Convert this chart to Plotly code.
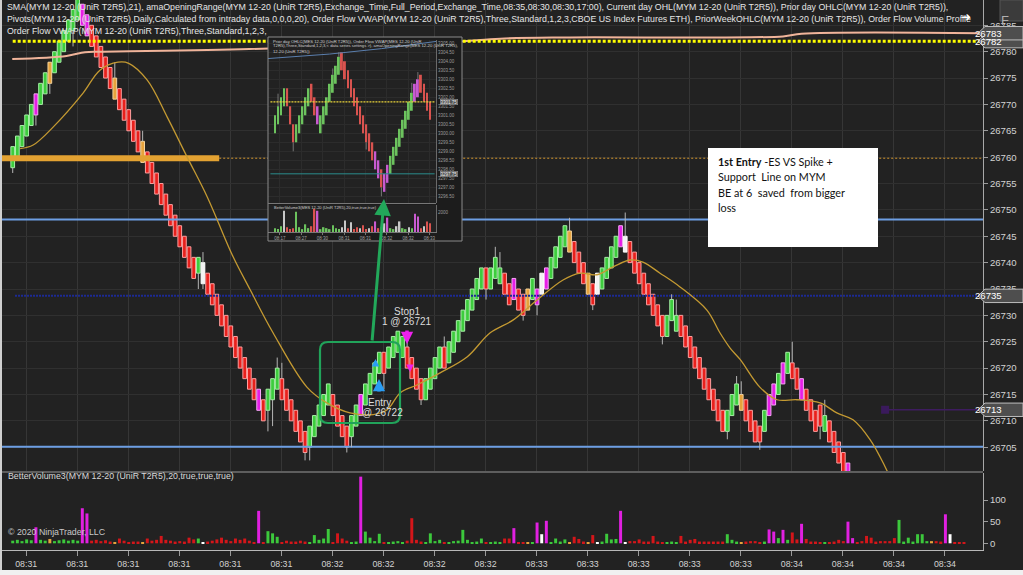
import plotly.graph_objects as go

W, H = 1023, 575

# ======================= DATA =======================
time_tick_bars = [2.9, 13.9, 24.9, 35.9, 46.9, 57.9, 68.9, 79.9, 90.9, 101.9,
                  112.9, 123.9, 134.9, 145.9, 156.9, 167.9, 178.9, 189.9, 200.9]
time_tick_labels = ["08:31"] * 6 + ["08:32"] * 4 + ["08:33"] * 5 + ["08:34"] * 4

price_ticks = [26705, 26710, 26715, 26720, 26725, 26730, 26735, 26740, 26745,
               26750, 26755, 26760, 26765, 26770, 26775, 26780, 26785]
volume_ticks = [0, 50, 100]

opens = [
    26758, 26760, 26762, 26764, 26766, 26768, 26770, 26772, 26774, 26776,
    26778, 26780, 26782, 26784, 26786, 26789, 26787, 26785, 26783, 26781,
    26779, 26777, 26775, 26773, 26771, 26769, 26767, 26765, 26763, 26761,
    26759, 26757, 26755, 26753, 26751, 26749, 26747, 26745, 26743, 26741,
    26738, 26740, 26738, 26736, 26734, 26732, 26730, 26728, 26726, 26724,
    26722, 26720, 26718, 26716, 26714, 26712, 26714, 26716, 26718, 26716,
    26714, 26712, 26710, 26708, 26705, 26707, 26709, 26711, 26713, 26715,
    26713, 26711, 26709, 26707, 26709, 26711, 26713, 26715, 26717, 26719,
    26723, 26720, 26722, 26723, 26722, 26724, 26722, 26720, 26718, 26714,
    26716, 26718, 26720, 26724, 26721, 26723, 26725, 26727, 26729, 26731,
    26733, 26735, 26739, 26735, 26737, 26736, 26738, 26736, 26733, 26735,
    26734, 26731, 26733, 26732, 26734, 26735, 26737, 26739, 26741, 26743,
    26746, 26744, 26742, 26740, 26738, 26736, 26734, 26735, 26737, 26739,
    26741, 26743, 26745, 26744, 26742, 26740, 26738, 26736, 26734, 26732,
    26730, 26726, 26729, 26727, 26730, 26728, 26726, 26724, 26722, 26720,
    26718, 26716, 26714, 26712, 26708, 26711, 26713, 26715, 26714, 26712,
    26710, 26709, 26708, 26711, 26713, 26715, 26717, 26719, 26721, 26720,
    26718, 26716, 26714, 26712, 26713, 26708, 26710, 26708, 26706, 26704,
    26702]
closes = [
    26762, 26764, 26766, 26768, 26770, 26772, 26774, 26776, 26778, 26780,
    26782, 26784, 26786, 26788, 26790, 26785, 26783, 26781, 26779, 26777,
    26775, 26773, 26771, 26769, 26767, 26765, 26763, 26761, 26759, 26757,
    26755, 26753, 26751, 26749, 26747, 26745, 26743, 26741, 26739, 26737,
    26741, 26736, 26734, 26732, 26730, 26728, 26726, 26724, 26722, 26720,
    26718, 26716, 26714, 26712, 26710, 26716, 26718, 26720, 26714, 26712,
    26710, 26708, 26706, 26704, 26709, 26711, 26713, 26715, 26717, 26711,
    26709, 26707, 26705, 26711, 26713, 26715, 26717, 26719, 26721, 26723,
    26719, 26724, 26726, 26727, 26726, 26720, 26718, 26716, 26714, 26718,
    26720, 26722, 26724, 26720, 26725, 26727, 26729, 26731, 26733, 26735,
    26737, 26739, 26735, 26739, 26741, 26739, 26734, 26732, 26737, 26731,
    26730, 26735, 26737, 26735, 26738, 26739, 26741, 26743, 26745, 26747,
    26742, 26740, 26738, 26736, 26734, 26732, 26738, 26739, 26741, 26743,
    26745, 26747, 26742, 26740, 26738, 26736, 26734, 26732, 26730, 26728,
    26726, 26730, 26733, 26730, 26726, 26724, 26722, 26720, 26718, 26716,
    26714, 26712, 26710, 26708, 26712, 26715, 26717, 26712, 26710, 26708,
    26706, 26706, 26712, 26715, 26717, 26719, 26721, 26723, 26718, 26716,
    26714, 26712, 26710, 26708, 26709, 26711, 26706, 26704, 26702, 26700,
    26698]
wick_lows = {0: 26757, 5: 26766, 8: 26772, 13: 26781, 40: 26735, 41: 26735,
             55: 26708, 56: 26709, 63: 26702.5, 64: 26702.5, 72: 26704, 73: 26705,
             80: 26716, 88: 26713, 102: 26733, 110: 26729, 113: 26730, 125: 26731,
             140: 26724.5, 154: 26706.5, 161: 26704.5, 174: 26706.5}
wick_highs = {22: 26778, 28: 26765, 41: 26742, 57: 26722, 58: 26721, 85: 26726,
              93: 26726, 104: 26743, 105: 26742, 120: 26748.5, 132: 26749.5,
              142: 26734, 143: 26733, 156: 26718.5, 157: 26717.5, 168: 26725, 175: 26714}

bar_codes = ("ggggg" "m" "gg" "o" "gggggg" "mm" "rrrrr" "o" "rrrrr" "o" "rrrrrrrrrrr"
             "g" "w" "rrrrrrrrrrr" "m" "r" "ggg" "rrrrrr" "ggggg" "rrrr" "gg" "m"
             "gggg" "r" "gggg" "rrrr" "gggg" "r" "gggggggg" "r" "ggg" "rr" "m" "rr"
             "o" "g" "m" "w" "m" "gggg" "o" "rrr" "o" "r" "w" "gggg" "m" "w"
             "rrrrrrrr" "ggg" "rrrrrrrrrr" "ggg" "o" "rrrr" "g" "mm" "g" "m" "g"
             "rr" "m" "rrrr" "g" "rrrr" "m" "m" "rrrrrrrrr" "ggggggg" "o" "rr" "m"
             "w" "rrr")

volumes = [6, 8, 5, 9, 7, 37, 8, 6, 10, 5, 7, 9, 6, 8, 6, 81, 69, 6, 8, 5,
           7, 4, 3, 11, 6, 3, 4, 4, 3, 11, 6, 8, 17, 8, 6, 4, 5, 4, 13, 9,
           11, 3, 4, 6, 9, 13, 8, 5, 11, 8, 11, 6, 3, 75, 3, 28, 23, 15, 3, 6,
           4, 4, 6, 4, 3, 19, 8, 11, 33, 3, 23, 11, 6, 3, 4, 154, 27, 13, 5, 22,
           3, 3, 4, 5, 3, 6, 58, 8, 4, 3, 23, 5, 8, 3, 3, 5, 6, 31, 8, 3,
           4, 11, 3, 3, 4, 3, 11, 11, 35, 3, 2, 3, 2, 48, 21, 52, 2, 11, 4, 9,
           3, 15, 10, 4, 3, 19, 3, 4, 22, 9, 10, 75, 3, 5, 5, 9, 4, 4, 17, 4,
           3, 3, 4, 3, 17, 4, 8, 10, 4, 4, 4, 4, 4, 4, 21, 8, 4, 3, 4, 5,
           5, 3, 4, 32, 27, 12, 31, 8, 25, 9, 45, 10, 4, 4, 3, 3, 2, 4, 8, 5,
           50, 12, 3, 5, 17, 13, 4, 5, 5, 5, 12, 54, 4, 13, 4, 21, 21, 5, 5, 5,
           4, 67, 21, 2, 2, 2]

sma_x = [1.6, 4.4, 8.7, 15.2, 18.8, 22.7, 25.0, 29.0, 33.3, 37.6, 41.9, 47.5, 51.2,
         56.1, 63.4, 67.7, 72.7, 77.7, 80.7, 83.5, 87.1, 92.1, 97.9, 102.9, 107.8,
         113.0, 118.6, 122.3, 125.9, 129.4, 133.0, 135.8, 139.5, 143.8, 149.6, 152.4,
         154.6, 156.8, 161.0, 164.7, 169.0, 174.0, 177.6, 181.1, 184.8, 188.0, 190.2]
sma_y = [26761.6, 26762.3, 26765.7, 26772.2, 26776.5, 26778.0, 26777.8, 26774.6,
         26767.6, 26760.0, 26752.5, 26741.1, 26734.8, 26726.7, 26716.4, 26713.4,
         26711.5, 26711.2, 26712.1, 26715.3, 26716.8, 26719.1, 26722.1, 26726.7,
         26729.1, 26732.9, 26736.7, 26738.0, 26737.7, 26739.2, 26740.5, 26740.1,
         26738.0, 26735.4, 26731.0, 26726.7, 26723.8, 26721.6, 26716.4, 26714.0,
         26714.0, 26713.4, 26711.5, 26710.2, 26706.4, 26701.3, 26697.0]
vwap_x = [-0.1, 11.6, 15.6, 18.8, 51.0, 97.0, 106.0, 120.0, 166.0, 170.0, 209.0]
vwap_y = [26778.6, 26779.2, 26779.9, 26780.0, 26780.5, 26782.0, 26782.5, 26782.7,
          26782.9, 26783.4, 26783.5]

yellow_level = 26782.0
orange_level = 26759.8
opening_range_bars = [-2.7, 44.5]
pivot_levels = [26748.2, 26705.1]
navy_level = 26733.7
navy_start_bar = 0.5
purple_level = 26712.1
purple_start_bar = 188.0
axis_tags = [(26782.0, "26782"), (26783.5, "26783"), (26733.7, "26735"), (26712.1, "26713")]

inset_opens = [3300.0, 3300.5, 3301.0, 3301.5, 3302.5, 3301.5, 3300.5, 3299.5, 3300.0, 3300.5,
               3301.0, 3301.5, 3302.75, 3302.0, 3301.5, 3300.0, 3300.5, 3301.0, 3301.75, 3302.25,
               3302.75, 3303.25, 3304.5, 3304.0, 3303.5, 3303.0, 3302.5, 3302.0, 3301.5, 3301.0,
               3300.5, 3300.0, 3299.5, 3299.0, 3298.5, 3298.0, 3296.75, 3297.25, 3297.75, 3298.25,
               3298.75, 3299.25, 3299.75, 3300.25, 3300.75, 3301.25, 3301.75, 3302.0, 3303.25, 3302.75,
               3302.25, 3301.75]
inset_closes = [3301.0, 3301.5, 3302.0, 3302.5, 3301.5, 3300.5, 3299.5, 3300.5, 3301.0, 3301.5,
                3302.0, 3302.5, 3301.75, 3301.0, 3300.5, 3301.0, 3301.5, 3302.0, 3302.75, 3303.25,
                3303.75, 3304.25, 3303.5, 3303.0, 3302.5, 3302.0, 3301.5, 3301.0, 3300.5, 3300.0,
                3299.5, 3299.0, 3298.5, 3298.0, 3297.5, 3297.0, 3297.75, 3298.25, 3298.75, 3299.25,
                3299.75, 3300.25, 3300.75, 3301.25, 3301.75, 3302.25, 3302.75, 3303.0, 3302.25, 3301.75,
                3301.25, 3300.75]
inset_wick_lows = {6: 3299.0, 30: 3299.1, 35: 3296.5}
inset_wick_highs = {1: 3302.2, 19: 3303.6, 21: 3304.5, 45: 3302.8, 47: 3303.4}
inset_codes = "gggg" "rrr" "ggggg" "rrm" "ggggggg" "rrrrrrrrrrrmmr" "mmggggggggmm" "rrrr"
inset_volumes = [400, 300, 600, 2200, 500, 300, 400, 2100, 500, 300, 800, 400, 600, 2400, 2200,
                 300, 500, 400, 300, 700, 400, 300, 500, 1200, 400, 1000, 300, 500, 400, 700,
                 300, 400, 600, 1100, 400, 500, 900, 1500, 400, 300, 600, 1100, 400, 300, 500,
                 400, 1900, 1600, 400, 600, 1100, 900]
inset_vol_codes = "ggg" "w" "rrr" "ggggg" "rr" "m" "ggggggg" "wwrwrrwrrwrmrrwmggwwggwgmmrwrr"
inset_vwap_x = [-2.3, 18, 35, 48, 53]
inset_vwap_y = [3304.15, 3304.4, 3304.7, 3305.0, 3305.1]
inset_yellow_level = 3301.75
inset_teal_level = 3297.75
inset_tick_bars = [1.6, 8.6, 15.6, 22.7, 29.7, 36.7, 43.8, 50.8]
inset_tick_labels = ["08:17", "08:27", "08:30", "08:31", "08:31", "08:32", "08:32", "08:33"]

# ======================= LAYOUT CONSTANTS =======================
BG = "#222222"
PLOT_RIGHT = 983
MAIN_BOT = 471
VOL_TOP, VOL_BOT = 473, 550
X_RANGE = [-2.74, 209.1]
Y_RANGE = [26700.49, 26789.80]
VOL_RANGE = [-15.5, 162.4]
FONT = "Liberation Sans, Arial, sans-serif"

fill_cols = {"g": "#3dcc3d", "r": "#e8201c", "m": "#e61ee6", "o": "#e6a23c", "w": "#f2f2f2"}
edge_cols = {"g": "#a6f0a6", "r": "#ff9f9f", "m": "#f6a6f6", "o": "#f7d49a", "w": "#ffffff"}
vol_cols = {"g": "#3cc83c", "r": "#d4161a", "m": "#e020e0", "o": "#e6a23c", "w": "#ffffff"}
in_cols = {"g": "#6cc35e", "r": "#d9534f", "m": "#c85ad0", "w": "#c8c8c8"}


def px_x(px):
    return X_RANGE[0] + px / PLOT_RIGHT * (X_RANGE[1] - X_RANGE[0])


def px_y(py):
    return Y_RANGE[1] - py / MAIN_BOT * (Y_RANGE[1] - Y_RANGE[0])


def pxs(py_len):
    return py_len / MAIN_BOT * (Y_RANGE[1] - Y_RANGE[0])


def PX(px):
    return px / W


def PY(py):
    return 1 - py / H


fig = go.Figure()

n = len(closes)
idx = list(range(n))
fig.add_trace(go.Scatter(x=opening_range_bars, y=[orange_level] * 2, mode="lines",
                         line=dict(color="#e3a232", width=6), hoverinfo="skip"))
fig.add_trace(go.Scatter(x=[opening_range_bars[1], X_RANGE[1]], y=[orange_level] * 2, mode="lines",
                         line=dict(color="#d4962e", width=1, dash="2px,2px"), hoverinfo="skip"))
for lv in pivot_levels:
    fig.add_trace(go.Scatter(x=X_RANGE, y=[lv, lv], mode="lines",
                             line=dict(color="#6d9ee3", width=2), hoverinfo="skip"))
fig.add_trace(go.Scatter(x=[navy_start_bar, X_RANGE[1]], y=[navy_level] * 2, mode="lines",
                         line=dict(color="#1c2a94", width=2, dash="2px,1px"), hoverinfo="skip"))
fig.add_trace(go.Scatter(x=[purple_start_bar, X_RANGE[1]], y=[purple_level] * 2, mode="lines",
                         line=dict(color="#3e1c60", width=1.5), hoverinfo="skip"))
fig.add_trace(go.Scatter(x=[purple_start_bar], y=[purple_level], mode="markers",
                         marker=dict(symbol="square", size=8, color="#3a1a5c"), hoverinfo="skip"))
fig.add_trace(go.Scatter(x=vwap_x, y=vwap_y, mode="lines", line=dict(color="#f0b49a", width=2),
                         line_shape="spline", hoverinfo="skip"))

wx, wy = [], []
for i in idx:
    lo_b, hi_b = min(opens[i], closes[i]), max(opens[i], closes[i])
    if i in wick_lows:
        wx += [i, i, None]
        wy += [wick_lows[i], lo_b, None]
    if i in wick_highs:
        wx += [i, i, None]
        wy += [hi_b, wick_highs[i], None]
fig.add_trace(go.Scatter(x=wx, y=wy, mode="lines", line=dict(color="#b5b5b5", width=1),
                         hoverinfo="skip"))
fig.add_trace(go.Bar(x=idx, y=[abs(c - o) for o, c in zip(opens, closes)],
                     base=[min(o, c) for o, c in zip(opens, closes)], width=0.8,
                     marker=dict(color=[fill_cols[bar_codes[i]] for i in idx],
                                 line=dict(color=[edge_cols[bar_codes[i]] for i in idx], width=1)),
                     hoverinfo="skip"))
fig.add_trace(go.Scatter(x=[0, X_RANGE[1]], y=[yellow_level] * 2, mode="lines",
                         line=dict(color="#ffff00", width=3, dash="3px,2px"), hoverinfo="skip"))
fig.add_trace(go.Scatter(x=sma_x, y=sma_y, mode="lines", line=dict(color="#c49a32", width=1.3),
                         line_shape="spline", hoverinfo="skip"))

vidx = list(range(len(volumes)))
fig.add_trace(go.Bar(x=vidx, y=volumes, width=0.64, xaxis="x2", yaxis="y2",
                     marker=dict(color=[vol_cols[bar_codes[i]] for i in vidx], line=dict(width=0)),
                     hoverinfo="skip"))

fig.add_trace(go.Scatter(x=[0, 1, 1, 0, 0], y=[0, 0, 1, 1, 0], fill="toself", fillcolor="#1c1c1c",
                         mode="lines", line=dict(width=0, color="#1c1c1c"), xaxis="x3", yaxis="y3",
                         hoverinfo="skip"))
k = list(range(len(inset_closes)))
fig.add_trace(go.Scatter(x=inset_vwap_x, y=inset_vwap_y, mode="lines", line=dict(color="#5b7fae", width=1),
                         xaxis="x4", yaxis="y4", hoverinfo="skip"))
fig.add_trace(go.Scatter(x=[-1.5, 52.5], y=[inset_teal_level] * 2, mode="lines",
                         line=dict(color="#2b8c8c", width=1), xaxis="x4", yaxis="y4", hoverinfo="skip"))
iwx, iwy = [], []
for i in k:
    lo_b, hi_b = min(inset_opens[i], inset_closes[i]), max(inset_opens[i], inset_closes[i])
    if i in inset_wick_lows:
        iwx += [i, i, None]
        iwy += [inset_wick_lows[i], lo_b, None]
    if i in inset_wick_highs:
        iwx += [i, i, None]
        iwy += [hi_b, inset_wick_highs[i], None]
fig.add_trace(go.Scatter(x=iwx, y=iwy, mode="lines", line=dict(color="#8a8a8a", width=0.8),
                         xaxis="x4", yaxis="y4", hoverinfo="skip"))
fig.add_trace(go.Bar(x=k, y=[abs(c - o) for o, c in zip(inset_opens, inset_closes)],
                     base=[min(o, c) for o, c in zip(inset_opens, inset_closes)], width=0.62,
                     marker=dict(color=[in_cols[inset_codes[i]] for i in k], line=dict(width=0)),
                     xaxis="x4", yaxis="y4", hoverinfo="skip"))
fig.add_trace(go.Scatter(x=[-1.5, 52.5], y=[inset_yellow_level] * 2, mode="lines",
                         line=dict(color="#e8d23a", width=1.2, dash="2px,1px"), xaxis="x4", yaxis="y4",
                         hoverinfo="skip"))
fig.add_trace(go.Bar(x=k, y=inset_volumes, width=0.5, xaxis="x5", yaxis="y5",
                     marker=dict(color=[in_cols[inset_vol_codes[i]] for i in k], line=dict(width=0)),
                     hoverinfo="skip"))

grid = "#363636"
ax_common = dict(zeroline=False, fixedrange=True)
fig.update_layout(
    width=W, height=H, margin=dict(l=0, r=0, t=0, b=0),
    paper_bgcolor=BG, plot_bgcolor=BG, showlegend=False, barmode="overlay",
    font=dict(family=FONT, color="#d0d0d0"),
    xaxis=dict(domain=[0, PLOT_RIGHT / W], range=X_RANGE, tickvals=time_tick_bars,
               showticklabels=False, showgrid=True, gridcolor=grid, gridwidth=1, ticks="", **ax_common),
    yaxis=dict(domain=[PY(MAIN_BOT), 1], range=Y_RANGE, side="right", tickvals=price_ticks,
               tickformat="d", ticks="outside", ticklen=4, tickcolor="#9a9a9a", showline=True,
               linecolor="#a8a8a8", gridcolor="#303030", tickfont=dict(size=9.6, color="#d2d2d2"),
               **ax_common),
    xaxis2=dict(domain=[0, PLOT_RIGHT / W], range=X_RANGE, anchor="y2", tickvals=time_tick_bars,
                ticktext=time_tick_labels, ticks="outside", ticklen=5, tickcolor="#9a9a9a",
                showline=True, linecolor="#b8b8b8", showgrid=False,
                tickfont=dict(size=8.8, color="#d2d2d2"), **ax_common),
    yaxis2=dict(domain=[PY(VOL_BOT), PY(VOL_TOP)], range=VOL_RANGE, anchor="x2", side="right",
                tickvals=volume_ticks, tickformat="d", ticks="outside", ticklen=4, tickcolor="#9a9a9a",
                showline=True, linecolor="#a8a8a8", showgrid=False,
                tickfont=dict(size=9.6, color="#d2d2d2"), **ax_common),
    xaxis3=dict(domain=[PX(268), PX(462)], range=[0, 1], anchor="y3", visible=False, **ax_common),
    yaxis3=dict(domain=[PY(241), PY(37)], range=[0, 1], anchor="x3", visible=False, **ax_common),
    xaxis4=dict(domain=[PX(268), PX(436)], range=[-2.3, 52.96], anchor="y4", tickvals=inset_tick_bars,
                showticklabels=False, showgrid=True, gridcolor="#2c2c2c", ticks="", **ax_common),
    yaxis4=dict(domain=[PY(203), PY(40)], range=[3296.13, 3305.18], anchor="x4", side="right",
                dtick=0.5, tickformat=".2f", showgrid=True, gridcolor="#2c2c2c", showline=True,
                linecolor="#6a6a6a", ticks="", tickfont=dict(size=4.5, color="#9a9a9a"), **ax_common),
    xaxis5=dict(domain=[PX(268), PX(436)], range=[-2.3, 52.96], anchor="y5", tickvals=inset_tick_bars,
                ticktext=inset_tick_labels, ticks="outside", ticklen=2, tickcolor="#777",
                showline=True, linecolor="#777", showgrid=False,
                tickfont=dict(size=4.5, color="#a0a0a0"), **ax_common),
    yaxis5=dict(domain=[PY(232), PY(205)], range=[0, 2800], anchor="x5", side="right",
                tickvals=[2000], tickformat="d", showline=True, linecolor="#6a6a6a", showgrid=False,
                ticks="", tickfont=dict(size=4.5, color="#9a9a9a"), **ax_common),
)

shapes = []
shapes.append(dict(type="line", xref="paper", yref="paper", x0=0, x1=PX(PLOT_RIGHT),
                   y0=PY(472), y1=PY(472), line=dict(color="#9a9a9a", width=1)))
shapes.append(dict(type="rect", xref="paper", yref="paper", x0=0, x1=1, y0=0, y1=PY(570),
                   fillcolor="#f0f0f0", line=dict(width=0), layer="above"))
shapes.append(dict(type="rect", xref="paper", yref="paper", x0=0, x1=PX(2), y0=PY(570), y1=1,
                   fillcolor="#cfcfcf", line=dict(width=0), layer="above"))
shapes.append(dict(type="rect", xref="paper", yref="paper", x0=PX(268), x1=PX(462), y0=PY(241),
                   y1=PY(37), line=dict(color="#8a8a8a", width=1), layer="above"))
shapes.append(dict(type="line", xref="paper", yref="paper", x0=PX(268), x1=PX(436), y0=PY(203.5),
                   y1=PY(203.5), line=dict(color="#777", width=1), layer="above"))

bx0, bx1 = px_x(320), px_x(400)
by1, by0 = px_y(342), px_y(423)
rx, ry = px_x(8) - px_x(0), pxs(8)
path = (f"M {bx0+rx},{by1} L {bx1-rx},{by1} Q {bx1},{by1} {bx1},{by1-ry} "
        f"L {bx1},{by0+ry} Q {bx1},{by0} {bx1-rx},{by0} L {bx0+rx},{by0} "
        f"Q {bx0},{by0} {bx0},{by0+ry} L {bx0},{by1-ry} Q {bx0},{by1} {bx0+rx},{by1} Z")
shapes.append(dict(type="path", xref="x", yref="y", path=path, line=dict(color="#21a35a", width=2.2),
                   layer="above"))

shapes.append(dict(type="rect", xref="paper", yref="paper", x0=PX(708), x1=PX(878), y0=PY(247),
                   y1=PY(148), fillcolor="#ffffff", line=dict(width=0), layer="above"))

dh = pxs(6.7)
for lv, txt in axis_tags:
    p = (f"M {PX(978)},{lv} L {PX(985)},{lv+dh} L 1,{lv+dh} L 1,{lv-dh} "
         f"L {PX(985)},{lv-dh} Z")
    shapes.append(dict(type="path", xref="paper", yref="y", path=p, fillcolor="#4e4e4e",
                       line=dict(color="#bdbdbd", width=1), layer="above"))
shapes.append(dict(type="rect", xref="paper", yref="paper", x0=PX(1000), x1=1, y0=PY(21), y1=1,
                   fillcolor="#3b3b3b", line=dict(color="#555", width=1), layer="above"))

ann = []
top_lines = [
    "SMA(MYM 12-20 (UniR T2R5),21), amaOpeningRange(MYM 12-20 (UniR T2R5),Exchange_Time,Full_Period,"
    "Exchange_Time,08:35,08:30,08:30,17:00), Current day OHL(MYM 12-20 (UniR T2R5)), Prior day OHLC(MYM 12-20 (UniR T2R5)),",
    "Pivots(MYM 12-20 (UniR T2R5),Daily,Calculated from intraday data,0,0,0,20), Order Flow VWAP(MYM 12-20 "
    "(UniR T2R5),Three,Standard,1,2,3,CBOE US Index Futures ETH), PriorWeekOHLC(MYM 12-20 (UniR T2R5)), Order Flow Volume Profile",
    "Order Flow VWAP(MYM 12-20 (UniR T2R5),Three,Standard,1,2,3,",
]
for j, t in enumerate(top_lines):
    ann.append(dict(xref="paper", yref="paper", x=PX(5), y=PY(7 + 12 * j), text=t, showarrow=False,
                    xanchor="left", yanchor="middle", font=dict(size=8.8, color="#e6e6e6")))
ann.append(dict(xref="paper", yref="paper", x=PX(966), y=PY(17), text="➜", showarrow=False,
                xanchor="center", yanchor="middle", font=dict(size=12, color="#ffffff")))
ann.append(dict(xref="paper", yref="paper", x=PX(1011), y=PY(11), text="F", showarrow=False,
                font=dict(size=13, color="#b0b0b0")))
ann.append(dict(xref="paper", yref="paper", x=PX(6), y=PY(483), text="BetterVolume3(MYM 12-20 (UniR T2R5),20,true,true,true)",
                showarrow=False, xanchor="left", font=dict(size=8.8, color="#d8d8d8")))
ann.append(dict(xref="paper", yref="paper", x=PX(6), y=PY(539), text="© 2020 NinjaTrader, LLC",
                showarrow=False, xanchor="left", font=dict(size=8.8, color="#c8c8c8")))
for lv, txt in axis_tags:
    ann.append(dict(xref="paper", yref="y", x=PX(1004), y=lv, text=txt, showarrow=False,
                    font=dict(size=9.6, color="#ffffff")))

nb = "\u00a0"
note_lines = ["<b>1st Entry</b>" + nb + "-ES VS Spike +", "Support" + nb + " Line on MYM",
              "BE at 6" + nb + " saved" + nb + " from bigger", "loss"]
for j, t in enumerate(note_lines):
    ann.append(dict(xref="paper", yref="paper", x=PX(716), y=PY(161 + 15.5 * j), text=t, showarrow=False,
                    xanchor="left", yanchor="middle", font=dict(family="Lato, Carlito, sans-serif",
                                                                size=10.8, color="#111111")))

ann.append(dict(x=px_x(407), y=px_y(311), text="Stop1", showarrow=False, font=dict(size=10, color="#dcdcdc")))
ann.append(dict(x=px_x(407), y=px_y(321.5), text="1 @ 26721", showarrow=False, font=dict(size=10, color="#dcdcdc")))
ann.append(dict(x=px_x(379), y=px_y(402), text="Entry", showarrow=False, font=dict(size=10, color="#dcdcdc")))
ann.append(dict(x=px_x(382), y=px_y(412), text="@ 26722", showarrow=False, font=dict(size=10, color="#dcdcdc")))
ann.append(dict(x=px_x(407), y=px_y(344), ax=px_x(407), ay=px_y(329), axref="x", ayref="y", text="",
                showarrow=True, arrowhead=2, arrowsize=0.7, arrowwidth=3.5, arrowcolor="#ee22ee"))
ann.append(dict(x=px_x(410), y=px_y(372), ax=px_x(410), ay=px_y(364), axref="x", ayref="y", text="",
                showarrow=True, arrowhead=2, arrowsize=0.6, arrowwidth=2.5, arrowcolor="#ee22ee"))
ann.append(dict(x=px_x(379), y=px_y(379), ax=px_x(379), ay=px_y(393), axref="x", ayref="y", text="",
                showarrow=True, arrowhead=2, arrowsize=0.7, arrowwidth=3.5, arrowcolor="#2a9df4"))
ann.append(dict(x=px_x(375.5), y=px_y(359), ax=px_x(375.5), ay=px_y(367), axref="x", ayref="y", text="",
                showarrow=True, arrowhead=2, arrowsize=0.6, arrowwidth=2.5, arrowcolor="#2a9df4"))
ann.append(dict(x=px_x(384), y=px_y(199), ax=px_x(372), ay=px_y(342), axref="x", ayref="y", text="",
                showarrow=True, arrowhead=2, arrowsize=1.1, arrowwidth=3, arrowcolor="#22a85a"))

inset_head = ["Prior day OHLC(MES 12-20 (UniR T2R5)), Order Flow VWAP(MES 12-20 (UniR",
              "T2R5),Three,Standard,1,2,3,< data series settings >), amaOpeningRange(MES 12-20 (UniR T2R5),",
              "12-20 (UniR T2R5))"]
for j, t in enumerate(inset_head):
    ann.append(dict(xref="paper", yref="paper", x=PX(271), y=PY(41 + 5 * j), text=t, showarrow=False,
                    xanchor="left", yanchor="middle", font=dict(size=4.2, color="#cfcfcf")))
ann.append(dict(xref="paper", yref="paper", x=PX(272), y=PY(208), text="BetterVolume3(MES 12-20 (UniR T2R5),20,true,true,true)",
                showarrow=False, xanchor="left", font=dict(size=4, color="#cfcfcf")))
for lvl, txt in [(inset_yellow_level, "3301.75"), (inset_teal_level, "3297.75")]:
    ann.append(dict(xref="paper", yref="y4", x=PX(449), y=lvl, text=txt, showarrow=False,
                    bgcolor="#555555", bordercolor="#999", borderwidth=0.5, borderpad=0,
                    font=dict(size=4.5, color="#eeeeee")))

fig.update_layout(shapes=shapes, annotations=ann)
fig.write_html("out.html", config={"displayModeBar": False},
               post_script="document.body.style.margin='0';document.body.style.overflow='hidden';")
